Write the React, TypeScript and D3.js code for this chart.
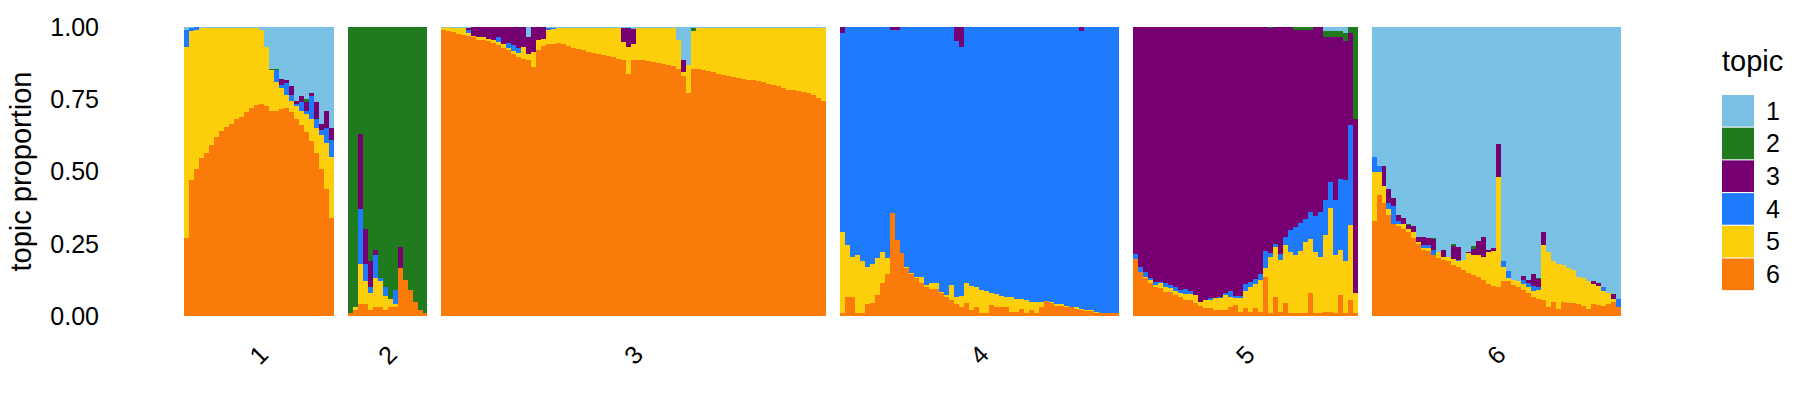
import React from 'react';
import * as d3 from 'd3';

// topic colours (topic 1..6)
const topicKeys = ['1', '2', '3', '4', '5', '6'];
const topicColors = ['#78c1e4', '#207a1e', '#760072', '#1e7bff', '#fdce0a', '#fb7b0a'];
const groupLabels = ['1', '2', '3', '4', '5', '6'];
const yTicks = [0, 0.25, 0.5, 0.75, 1];

// topic proportions per sample; topic 1 takes what is left up to 1
const g1t6 = [.27, .47, .51, .545, .565, .59, .62, .64, .655, .665, .68, .69, .705, .72, .73, .735, .725, .71, .71, .715, .72, .705, .68, .66, .635, .605, .565, .51, .44, .34];
const g1t5 = [.66, .515, .48, .45, .43, .405, .375, .355, .34, .33, .315, .305, .29, .275, .265, .255, .205, .14, .10, .075, .045, .04, .045, .05, .065, .075, .085, .115, .16, .21];
const g1t4 = [.06, .01, .01, 0, 0, 0, 0, 0, 0, 0, 0, 0, 0, 0, 0, 0, 0, 0, .04, .01, .04, .02, .01, .03, .01, .08, .03, .02, .05, .06];
const g1t3 = [0, 0, 0, 0, 0, 0, 0, 0, 0, 0, 0, 0, 0, 0, 0, 0, 0, 0, 0, .02, .01, .03, .01, .02, .03, .01, .06, .02, .06, .04];
const g1t2 = [0, 0, 0, 0, 0, 0, 0, 0, 0, 0, 0, 0, 0, 0, 0, 0, 0, .005, .005, 0, 0, 0, 0, 0, .01, 0, 0, 0, 0, 0];

const g2t6 = [.01, .02, .04, .04, .02, .03, .03, .02, .03, .03, .165, .125, .09, .05, .02, .01];
const g2t5 = [0, .01, .14, .08, .06, .10, .09, .05, .03, .01, 0, 0, 0, 0, 0, 0];
const g2t4 = [0, 0, .19, .06, .02, .08, .01, .03, 0, .05, 0, 0, 0, 0, 0, 0];
const g2t3 = [0, 0, .26, .12, .09, .02, 0, 0, 0, 0, .075, 0, 0, 0, 0, 0];
const g2t2 = [.99, .97, .37, .70, .81, .77, .87, .90, .94, .91, .76, .875, .91, .95, .98, .99];

const g3t6 = [.99, .985, .983, .977, .971, .968, .965, .955, .956, .95, .945, .937, .929, .919, .908, .896, .89, .885, .862, .919,
  .933, .94, .942, .945, .94, .933, .929, .925, .919, .915, .911, .908, .903, .90, .896, .89, .887, .839, .887, .887,
  .885, .881, .878, .876, .872, .869, .865, .856, .83, .77, .855, .853, .85, .848, .844, .839, .835, .832, .827, .825,
  .82, .818, .815, .812, .809, .804, .801, .797, .789, .783, .781, .778, .774, .77, .764, .755, .743];
const g3t5 = [.008, .015, .015, .02, .025, .01, .005, .01, .01, .01, .01, .01, .012, .01, .01, .015, .04, .02, .052, .035,
  .027, .048, .05, .05, .055, .062, .066, .07, .076, .08, .085, .088, .093, .095, .10, .105, .06, .093, .055, .11,
  .113, .117, .12, .122, .126, .129, .133, .10, .015, .10, .13, .145, .148, .15, .154, .159, .163, .166, .171, .173,
  .178, .18, .183, .186, .189, .194, .197, .201, .209, .215, .217, .22, .224, .228, .234, .243, .255];
const g3t4 = [0, 0, 0, 0, 0, .012, 0, 0, 0, 0, 0, .02, 0, .015, .02, .015, 0, 0, 0, 0,
  0, .009, .005, 0, 0, 0, 0, 0, 0, 0, 0, 0, 0, 0, 0, 0, 0, 0, 0, 0,
  0, 0, 0, 0, 0, 0, 0, 0, 0, 0, 0, 0, 0, 0, 0, 0, 0, 0, 0, 0,
  0, 0, 0, 0, 0, 0, 0, 0, 0, 0, 0, 0, 0, 0, 0, 0, 0];
const g3t3 = [0, 0, 0, 0, 0, .005, .03, .035, .034, .04, .045, .033, .059, .056, .062, .074, .07, .06, .086, .046,
  .04, 0, 0, 0, 0, 0, 0, 0, 0, 0, 0, 0, 0, 0, 0, 0, .05, .065, .052, 0,
  0, 0, 0, 0, 0, 0, 0, 0, .04, 0, 0, 0, 0, 0, 0, 0, 0, 0, 0, 0,
  0, 0, 0, 0, 0, 0, 0, 0, 0, 0, 0, 0, 0, 0, 0, 0, 0];
const g3t2 = [0, 0, 0, 0, 0, 0, 0, 0, 0, 0, 0, 0, 0, 0, 0, 0, 0, 0, 0, 0,
  0, 0, 0, 0, 0, 0, 0, 0, 0, 0, 0, 0, 0, 0, 0, 0, 0, 0, 0, 0,
  0, 0, 0, 0, 0, 0, 0, 0, 0, 0, .01, 0, 0, 0, 0, 0, 0, 0, 0, 0,
  0, 0, 0, 0, 0, 0, 0, 0, 0, 0, 0, 0, 0, 0, 0, 0, 0];

const g4t6 = [.01, .067, .067, .01, .01, .04, .045, .073, .113, .147, .355, .263, .217, .165, .147, .13, .113, .101, .095, .092,
  .078, .067, .055, .04, .032, .044, .021, .032, .012, .012, .038, .032, .03, .03, .015, .015, .023, .012, .021, .012,
  .032, .052, .044, .035, .035, .03, .03, .025, .02, .018, .018, .012, .01, .01, .01, .01];
const g4t5 = [.281, .178, .138, .20, .18, .13, .135, .127, .107, .053, 0, 0, 0, .005, .003, .006, .023, .006, .018, .021,
  .006, .006, .052, .027, .038, .069, .084, .068, .078, .073, .042, .043, .04, .037, .05, .045, .035, .043, .029, .038,
  .016, 0, .003, .007, .005, .006, .002, .005, .005, .004, .002, .003, 0, 0, 0, 0];
const g4t4 = [.689, .755, .795, .79, .81, .83, .82, .80, .78, .80, .635, .727, .783, .83, .85, .864, .864, .893, .887, .887,
  .916, .927, .893, .883, .86, .887, .895, .90, .91, .915, .92, .925, .93, .933, .935, .94, .942, .945, .95, .95,
  .952, .948, .953, .958, .96, .964, .968, .97, .96, .978, .98, .985, .99, .99, .99, .99];
const g4t3 = [.02, 0, 0, 0, 0, 0, 0, 0, 0, 0, .01, .01, 0, 0, 0, 0, 0, 0, 0, 0,
  0, 0, 0, .05, .07, 0, 0, 0, 0, 0, 0, 0, 0, 0, 0, 0, 0, 0, 0, 0,
  0, 0, 0, 0, 0, 0, 0, 0, .015, 0, 0, 0, 0, 0, 0, 0];
const g4t2 = [0, 0, 0, 0, 0, 0, 0, 0, 0, 0, 0, 0, 0, 0, 0, 0, 0, 0, 0, 0,
  0, 0, 0, 0, 0, 0, 0, 0, 0, 0, 0, 0, 0, 0, 0, 0, 0, 0, 0, 0,
  0, 0, 0, 0, 0, 0, 0, 0, 0, 0, 0, 0, 0, 0, 0, 0];

const g5t6 = [.196, .153, .13, .113, .101, .096, .084, .084, .073, .065, .055, .055, .046, .035, .026, .026, .021, .021, .021, .032,
  .038, .015, .027, .015, .027, .015, .136, .012, .067, .015, .044, .012, .012, .012, .012, .081, .012, .012, .015, .015,
  .012, .073, .012, .055, .01];
const g5t5 = [0, 0, .006, .012, .006, .017, .017, .012, .015, .016, .021, .021, .026, .015, .029, .029, .04, .04, .052, .035,
  .025, .048, .06, .086, .085, .11, .03, .193, .173, .18, .20, .21, .198, .213, .245, .187, .21, .193, .265, .357,
  .20, .155, .18, .26, .07];
const g5t4 = [.02, .017, .017, .006, .012, .006, .012, .012, .014, .009, .016, .012, 0, 0, 0, .006, 0, .006, .006, .02,
  .006, .006, .022, .017, .017, .02, .06, .012, .01, .02, .03, .075, .098, .098, .08, .092, .125, .155, .12, .092,
  .19, .245, .28, .345, 0];
const g5t3 = [.784, .83, .847, .869, .881, .881, .887, .892, .898, .91, .908, .912, .928, .95, .945, .939, .939, .933, .921, .913,
  .931, .931, .891, .882, .871, .855, .774, .778, .75, .785, .726, .703, .682, .667, .653, .63, .653, .64, .565, .501,
  .563, .492, .478, .32, .60];
const g5t2 = [0, 0, 0, 0, 0, 0, 0, 0, 0, 0, 0, 0, 0, 0, 0, 0, 0, 0, 0, 0,
  0, 0, 0, 0, 0, 0, 0, .005, 0, 0, 0, 0, .01, .01, .01, .01, 0, 0, .02, .02,
  .02, .02, .03, .02, .32];

const g6t6 = [.33, .42, .39, .35, .32, .31, .30, .29, .27, .25, .23, .225, .21, .20, .195, .19, .178, .17, .16, .15,
  .142, .136, .125, .11, .105, .10, .12, .12, .107, .10, .09, .08, .067, .06, .055, .03, .05, .025, .05, .046,
  .044, .042, .035, .025, .04, .038, .035, .04, .05, .03];
const g6t5 = [.17, .08, .06, .02, 0, .01, .02, .01, .02, .005, .005, .01, 0, .02, .01, .015, .02, .02, .035, .067,
  .07, .074, .08, .11, .12, .38, .05, .01, .017, .02, .02, .02, .02, .03, .19, .19, .14, .155, .125, .12,
  .115, .094, .097, .095, .07, .065, .05, .04, .01, 0];
const g6t4 = [.05, .02, 0, .02, .06, .01, 0, 0, 0, 0, .01, .01, .02, 0, 0, 0, 0, .005, 0, 0,
  0, 0, 0, 0, 0, 0, .02, .025, 0, 0, .015, .015, .017, .01, 0, 0, 0, 0, 0, 0,
  0, 0, 0, 0, 0, 0, .017, 0, 0, .03];
const g6t3 = [0, 0, .07, .05, .03, .02, .02, .015, .02, .02, .03, .025, .035, 0, .025, 0, .045, .045, 0, .005,
  .02, .05, .07, .01, .01, .114, 0, 0, 0, 0, .012, .01, .04, .028, .045, 0, 0, 0, 0, 0,
  0, 0, 0, 0, .012, .01, 0, 0, .015, 0];
const g6t2 = [0, 0, 0, 0, 0, 0, 0, .005, 0, 0, 0, 0, .005, 0, 0, 0, .005, 0, 0, 0,
  .01, 0, 0, 0, 0, 0, 0, 0, 0, 0, 0, 0, 0, .005, 0, 0, 0, 0, 0, 0,
  0, 0, 0, 0, 0, 0, 0, 0, 0, 0];

const groupData = [
  [g1t2, g1t3, g1t4, g1t5, g1t6],
  [g2t2, g2t3, g2t4, g2t5, g2t6],
  [g3t2, g3t3, g3t4, g3t5, g3t6],
  [g4t2, g4t3, g4t4, g4t5, g4t6],
  [g5t2, g5t3, g5t4, g5t5, g5t6],
  [g6t2, g6t3, g6t4, g6t5, g6t6],
];

type Row = Record<string, number>;

function toRows(cols: number[][]): Row[] {
  return cols[0].map((_, i) => {
    const row: Row = {};
    cols.forEach((c, j) => { row[String(j + 2)] = c[i]; });
    const rest = 1 - cols.reduce((s, c) => s + c[i], 0);
    row['1'] = Math.max(0, rest);
    return row;
  });
}

export default function App() {
  const width = 1800;
  const height = 420;
  const left = 184, right = 1621, top = 27, bottom = 316;
  const gap = 2.8;
  const font = '"Liberation Sans", Arial, Helvetica, sans-serif';

  const counts = groupData.map((g) => g[0].length);
  const offsets: number[] = [];
  let acc = 0;
  counts.forEach((n, k) => { offsets.push(acc); acc += n + (k < counts.length - 1 ? gap : 0); });

  const x = d3.scaleLinear().domain([0, acc]).range([left, right]);
  const y = d3.scaleLinear().domain([0, 1]).range([bottom, top]);
  const color = d3.scaleOrdinal<string, string>().domain(topicKeys).range(topicColors);

  // stack bottom to top: topic 6 first, topic 1 last
  const stack = d3.stack<Row>().keys(['6', '5', '4', '3', '2', '1']);

  return (
    <svg width={width} height={height} style={{ position: 'absolute', left: 0, top: 0, background: '#fff' }}
      fontFamily={font}>
      {groupData.map((cols, k) => {
        const series = stack(toRows(cols));
        const n = counts[k];
        // draw sample by sample so each bar covers the small overlap of the one before
        return (
          <g key={k} shapeRendering="crispEdges">
            {d3.range(n).map((i) => {
              const x0 = x(offsets[k] + i);
              const x1 = x(offsets[k] + i + 1);
              const w = x1 - x0 + (i < n - 1 ? 1 : 0);
              return (
                <g key={i}>
                  {series.map((s) => {
                    const d = s[i];
                    const h = y(d[0]) - y(d[1]);
                    if (h <= 0) return null;
                    return <rect key={s.key} x={x0} y={y(d[1])} width={w} height={h} fill={color(s.key)} />;
                  })}
                </g>
              );
            })}
          </g>
        );
      })}

      {/* y axis */}
      {yTicks.map((t) => (
        <text key={t} x={99} y={y(t)} dy="0.35em" textAnchor="end" fontSize={25} fill="#000">
          {d3.format('.2f')(t)}
        </text>
      ))}
      <text transform={`translate(31,${(top + bottom) / 2}) rotate(-90)`} textAnchor="middle" fontSize={29}
        fill="#000">topic proportion</text>

      {/* group labels */}
      {groupLabels.map((lab, k) => {
        const cx = (x(offsets[k]) + x(offsets[k] + counts[k])) / 2;
        return (
          <text key={lab} transform={`translate(${cx},355) rotate(-45)`} textAnchor="middle" dy="0.35em"
            fontSize={25} fill="#000">{lab}</text>
        );
      })}

      {/* legend */}
      <text x={1722} y={71} fontSize={29} fill="#000">topic</text>
      {topicKeys.map((t, i) => (
        <g key={t}>
          <rect x={1722} y={95 + i * 32.7} width={32} height={31.6} fill={color(t)} />
          <text x={1766} y={95 + i * 32.7 + 15.8} dy="0.35em" fontSize={25} fill="#000">{t}</text>
        </g>
      ))}
    </svg>
  );
}
